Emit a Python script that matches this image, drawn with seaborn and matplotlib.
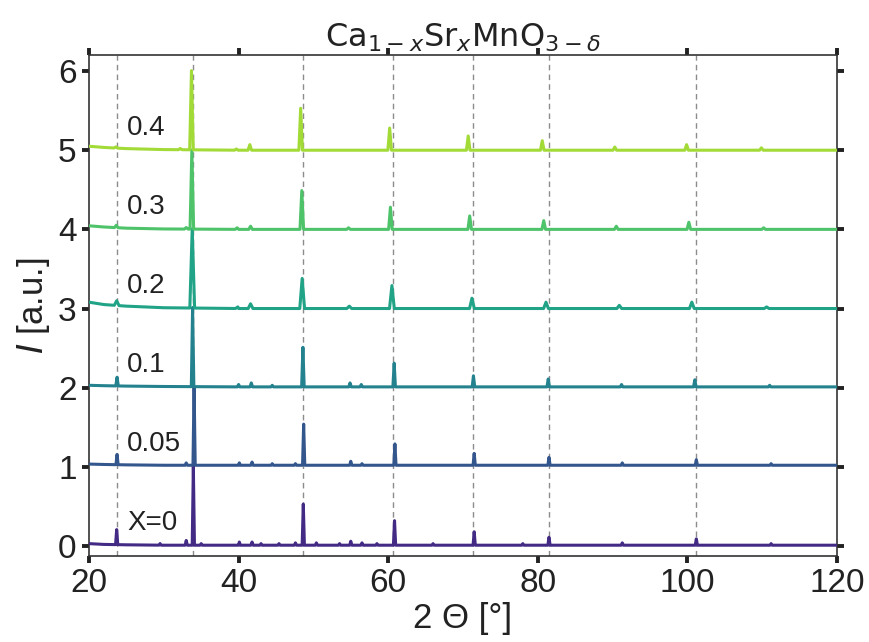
import numpy as np
import pandas as pd
import matplotlib
matplotlib.use("Agg")
import matplotlib.pyplot as plt
import seaborn as sns

# ---------------- data ----------------
series = ["X=0", "0.05", "0.1", "0.2", "0.3", "0.4"]
offsets = [0, 1, 2, 3, 4, 5]
colors = ["#432a85", "#33568c", "#23828e", "#20a386", "#4fc36a", "#a2da37"]

# baseline knots (2θ) and baseline excess per series
base_x = [20, 22, 25, 30, 40, 120]
base_x0 = [0.03, 0.02, 0.015, 0.01, 0.01, 0.01]
base_x005 = [0.035, 0.03, 0.025, 0.02, 0.02, 0.02]
base_x01 = [0.03, 0.025, 0.02, 0.015, 0.01, 0.01]
base_x02 = [0.08, 0.05, 0.03, 0.01, 0.0, 0.0]
base_x03 = [0.045, 0.03, 0.015, 0.005, 0.0, 0.0]
base_x04 = [0.05, 0.035, 0.02, 0.008, 0.0, 0.0]

# peak positions (2θ) and heights per series
pos_x0 = [23.7, 29.5, 33.0, 33.95, 35.0, 40.1, 41.8, 43.0, 45.4, 47.6, 48.65, 50.4,
          53.5, 55.0, 56.5, 58.5, 60.85, 66.0, 71.5, 78.0, 81.5, 91.3, 101.2, 111.2]
h_x0 = [0.19, 0.02, 0.06, 1.0, 0.02, 0.04, 0.04, 0.02, 0.02, 0.03, 0.52, 0.03,
        0.02, 0.05, 0.03, 0.02, 0.31, 0.02, 0.17, 0.02, 0.10, 0.03, 0.08, 0.02]
pos_x005 = [23.75, 33.0, 34.05, 40.1, 41.8, 44.5, 47.6, 48.7, 55.0, 56.5, 60.9,
            71.5, 81.5, 91.3, 101.2, 111.2]
h_x005 = [0.13, 0.03, 1.0, 0.03, 0.04, 0.02, 0.02, 0.52, 0.05, 0.02, 0.27,
          0.15, 0.10, 0.03, 0.07, 0.02]
pos_x01 = [23.75, 33.85, 40.0, 41.7, 44.5, 48.6, 54.9, 56.4, 60.8, 71.4, 81.4,
           91.2, 101.0, 111.0]
h_x01 = [0.11, 1.0, 0.03, 0.05, 0.02, 0.50, 0.05, 0.03, 0.30, 0.14, 0.10,
         0.03, 0.09, 0.02]
pos_x02 = [23.7, 33.8, 39.9, 41.6, 48.5, 54.8, 60.5, 71.2, 81.1, 90.9, 100.6, 110.6]
h_x02 = [0.06, 1.0, 0.02, 0.06, 0.38, 0.03, 0.29, 0.13, 0.08, 0.04, 0.08, 0.02]
pos_x03 = [23.65, 33.0, 33.75, 39.8, 41.6, 48.45, 54.7, 60.3, 70.9, 80.8, 90.5,
           100.2, 110.2]
h_x03 = [0.03, 0.02, 1.0, 0.02, 0.04, 0.49, 0.02, 0.28, 0.17, 0.11, 0.04,
         0.09, 0.02]
pos_x04 = [23.6, 32.2, 33.7, 39.7, 41.5, 48.3, 60.2, 70.7, 80.6, 90.3, 99.9, 109.9]
h_x04 = [0.015, 0.015, 1.0, 0.015, 0.07, 0.53, 0.28, 0.18, 0.12, 0.04, 0.07, 0.03]

ref_lines = [23.7, 33.9, 48.6, 60.6, 71.3, 81.5, 101.1]

positions = [pos_x0, pos_x005, pos_x01, pos_x02, pos_x03, pos_x04]
heights = [h_x0, h_x005, h_x01, h_x02, h_x03, h_x04]
baselines = [base_x0, base_x005, base_x01, base_x02, base_x03, base_x04]
half_w = [0.15, 0.15, 0.17, 0.32, 0.24, 0.24]

# ---------------- build table ----------------
rows = []
for name, off, pp, hh, bb, w in zip(series, offsets, positions, heights, baselines, half_w):
    xs = list(base_x)
    apex = {}
    for p, h in zip(pp, hh):
        xs += [p - w, p + w]
        xs.append(p)
        apex[p] = h
    xs = sorted(set(xs))
    for x in xs:
        y = off + float(np.interp(x, base_x, bb)) + apex.get(x, 0.0)
        rows.append((name, x, y))
df = pd.DataFrame(rows, columns=["series", "tt", "I"])

# ---------------- plot ----------------
sns.set_theme(style="ticks")
plt.rcParams["font.family"] = ["Liberation Sans", "DejaVu Sans"]
plt.rcParams["mathtext.fontset"] = "dejavusans"

fig = plt.figure(figsize=(8.7, 6.42), dpi=100)
ax = fig.add_axes([0.1023, 0.134, 0.8597, 0.780])

for xv in ref_lines:
    ax.axvline(xv, color="#8c8c8c", lw=1.0, ls=(0, (4, 3)), zorder=1)

sns.lineplot(data=df, x="tt", y="I", hue="series", hue_order=series,
             palette=colors, estimator=None, sort=True, legend=False,
             lw=2.2, ax=ax, zorder=3)

for name, off in zip(series, offsets):
    ax.text(25.1, off + 0.12, name, fontsize=20, color="#222222",
            ha="left", va="bottom", zorder=4)

ax.set_xlim(20, 120)
ax.set_ylim(-0.126, 6.2)
ax.set_xticks([20, 40, 60, 80, 100, 120])
ax.set_yticks([0, 1, 2, 3, 4, 5, 6])
ax.tick_params(axis="both", which="major", direction="out", length=5, width=2.8,
               color="#222222", labelsize=24, labelcolor="#222222",
               top=True, right=True, labeltop=False, labelright=False, pad=4)
for s in ax.spines.values():
    s.set_linewidth(1.2)
    s.set_color("#333333")

ax.set_xlabel("2 Θ [°]", fontsize=25, color="#222222", labelpad=2)
ax.set_ylabel("$I$ [a.u.]", fontsize=25, color="#222222", labelpad=4)
ax.set_title(r"Ca$_{1-x}$Sr$_x$MnO$_{3-\delta}$", fontsize=23, color="#222222",
             family="DejaVu Sans", pad=6)

fig.savefig("out.png", dpi=100)
